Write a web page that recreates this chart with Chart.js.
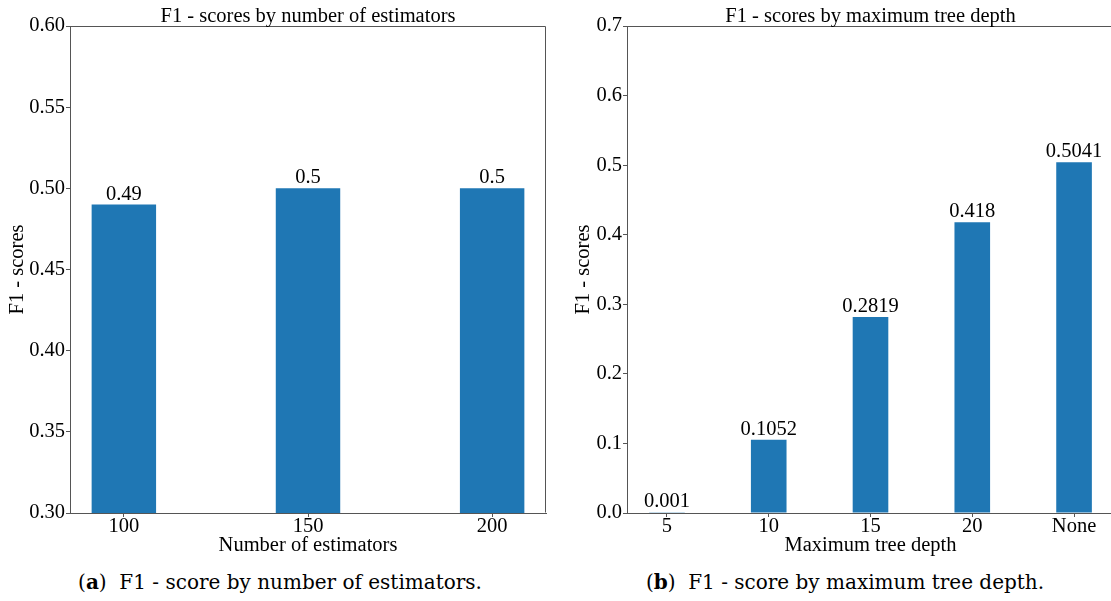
<!DOCTYPE html>
<html>
<head>
<meta charset="utf-8">
<script src="https://cdn.jsdelivr.net/npm/chart.js@4.4.1/dist/chart.umd.min.js"></script>
<style>
    html, body { margin: 0; padding: 0; background: #fff; width: 1111px; height: 601px; overflow: hidden; }
    .box { position: absolute; top: 0; width: 560px; height: 560px; }
    .cap { position: absolute; top: 570px; font-family: "DejaVu Serif", serif; font-size: 20px;
           white-space: nowrap; color: #000; transform: translateX(-50%); }
</style>
</head>
<body>
<div class="box" style="left:0"><canvas id="chartA"></canvas></div>
<div class="box" style="left:560px"><canvas id="chartB"></canvas></div>
<div class="cap" style="left:280px">(<b>a</b>)&nbsp; F1 - score by number of estimators.</div>
<div class="cap" style="left:845px">(<b>b</b>)&nbsp; F1 - score by maximum tree depth.</div>

<script>
// data
var estimators = ["100", "150", "200"];
var estimatorScores = [0.49, 0.5, 0.5];
var estimatorTicks = [0.30, 0.35, 0.40, 0.45, 0.50, 0.55, 0.60];

var depths = ["5", "10", "15", "20", "None"];
var depthScores = [0.001, 0.1052, 0.2819, 0.418, 0.5041];
var depthTicks = [0.0, 0.1, 0.2, 0.3, 0.4, 0.5, 0.6, 0.7];

var spine = "#555";
var serif = '"Liberation Serif", "Times New Roman", serif';
var fontCss = "20.5px " + serif;
function font() { return {family: serif, size: 20.5}; }

// title, box frame and value labels
function extras(title, values) {
    return {
        id: "extras",
        afterDatasetsDraw: function (chart) {
            var ctx = chart.ctx;
            ctx.save();
            ctx.font = fontCss;
            ctx.fillStyle = "#000";
            ctx.textAlign = "center";
            ctx.textBaseline = "alphabetic";
            chart.getDatasetMeta(0).data.forEach(function (bar, i) {
                ctx.fillText(String(values[i]), bar.x, bar.y - 5);
            });
            ctx.restore();
        },
        afterDraw: function (chart) {
            var a = chart.chartArea, ctx = chart.ctx;
            ctx.save();
            ctx.strokeStyle = spine;
            ctx.lineWidth = 1;
            var l = Math.round(a.left) + 0.5, t = Math.round(a.top) + 0.5;
            var r = Math.round(a.right) - 0.5, b = Math.round(a.bottom) - 0.5;
            ctx.beginPath();
            ctx.moveTo(l, b); ctx.lineTo(l, t); ctx.lineTo(r, t); ctx.lineTo(r, b);
            ctx.stroke();
            ctx.font = fontCss;
            ctx.fillStyle = "#000";
            ctx.textAlign = "center";
            ctx.textBaseline = "alphabetic";
            ctx.fillText(title, (a.left + a.right) / 2, 22);
            ctx.restore();
        }
    };
}

function makeChart(id, cats, values, yTicks, decimals, opts) {
    new Chart(document.getElementById(id), {
        type: "bar",
        data: {
            datasets: [{
                data: values.map(function (v, i) { return {x: i, y: v}; }),
                backgroundColor: "#1f77b4",
                borderWidth: 0,
                barPercentage: 0.35,
                categoryPercentage: 1
            }]
        },
        options: {
            responsive: true,
            maintainAspectRatio: false,
            animation: false,
            layout: {padding: {top: 26, right: opts.right, bottom: 0, left: 0}},
            plugins: {legend: {display: false}, tooltip: {enabled: false}},
            scales: {
                x: {
                    type: "linear",
                    offset: false,
                    min: opts.xmin,
                    max: opts.xmax,
                    afterBuildTicks: function (s) {
                        s.ticks = cats.map(function (c, i) { return {value: i}; });
                    },
                    afterFit: function (s) { s.height = 47; },
                    ticks: {
                        callback: function (v) { return cats[v]; },
                        font: font(), color: "#000", padding: -3,
                        autoSkip: false, maxRotation: 0
                    },
                    grid: {offset: false, drawOnChartArea: false, drawTicks: true, tickLength: 4, color: spine},
                    border: {color: spine},
                    title: {display: true, text: opts.xTitle, font: font(), color: "#000",
                            padding: {top: 0, bottom: 2}}
                },
                y: {
                    min: yTicks[0],
                    max: yTicks[yTicks.length - 1],
                    afterBuildTicks: function (s) {
                        s.ticks = yTicks.map(function (v) { return {value: v}; });
                    },
                    afterFit: function (s) { s.width = opts.yWidth; },
                    ticks: {
                        callback: function (v) { return Number(v).toFixed(decimals); },
                        font: font(), color: "#000", padding: 1
                    },
                    grid: {drawOnChartArea: false, drawTicks: true, tickLength: 4, color: spine},
                    border: {color: spine},
                    title: {display: true, text: "F1 - scores", font: font(), color: "#000",
                            padding: {top: opts.yTitlePad, bottom: 0}}
                }
            }
        },
        plugins: [extras(opts.title, values)]
    });
}

makeChart("chartA", estimators, estimatorScores, estimatorTicks, 2, {
    title: "F1 - scores by number of estimators",
    xTitle: "Number of estimators",
    xmin: -0.2925, xmax: 2.2925,
    right: 14, yWidth: 70, yTitlePad: 5
});

makeChart("chartB", depths, depthScores, depthTicks, 1, {
    title: "F1 - scores by maximum tree depth",
    xTitle: "Maximum tree depth",
    xmin: -0.3925, xmax: 4.3925,
    right: 6, yWidth: 67, yTitlePad: 11
});
</script>
</body>
</html>
